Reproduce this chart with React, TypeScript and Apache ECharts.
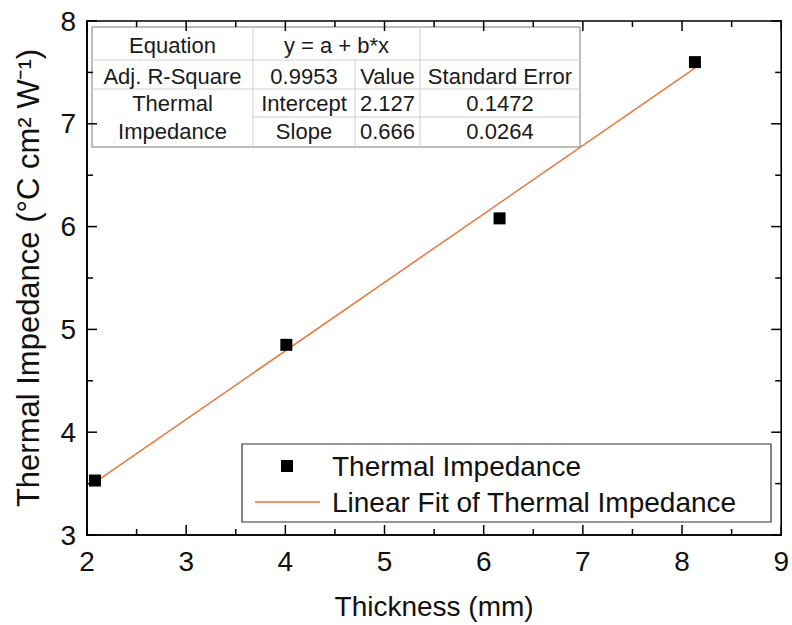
import React, { useEffect, useRef } from "react";
import * as echarts from "echarts";

// ---- data ----
const thickness = [2.08, 4.01, 6.16, 8.13];
const impedance = [3.53, 4.85, 6.08, 7.6];
const fitIntercept = 2.127;
const fitSlope = 0.666;
const xTicks = { min: 2, max: 9, interval: 1 };
const yTicks = { min: 3, max: 8, interval: 1 };
const xMajorTicks = [2, 3, 4, 5, 6, 7, 8, 9];
const xMinorTicks = [2.5, 3.5, 4.5, 5.5, 6.5, 7.5, 8.5];
const yMajorTicks = [3, 4, 5, 6, 7, 8];
const yMinorTicks = [3.5, 4.5, 5.5, 6.5, 7.5];
const seriesName = "Thermal Impedance";
const fitName = "Linear Fit of Thermal Impedance";
const xName = "Thickness (mm)";
const yName = "Thermal Impedance (°C cm² W⁻¹)";

// fit-statistics table (text content)
const tableRow1 = ["Equation", "y = a + b*x"];
const tableRow2 = ["Adj. R-Square", "0.9953", "Value", "Standard Error"];
const tableRow3 = ["Intercept", "2.127", "0.1472"];
const tableRow4 = ["Slope", "0.666", "0.0264"];
const tableGroupLabel = "Thermal\nImpedance";

const FONT = "'Liberation Sans', Arial, Helvetica, sans-serif";

const MAJOR = 10;
const MINOR = 6;

export default function App() {
  const ref = useRef<HTMLDivElement | null>(null);

  useEffect(() => {
    if (!ref.current) return;
    const chart = echarts.init(ref.current, null, { renderer: "svg" });

    const fitStart = thickness[0];
    const fitEnd = thickness[thickness.length - 1];
    const fitLine = [
      [fitStart, fitIntercept + fitSlope * fitStart],
      [fitEnd, fitIntercept + fitSlope * fitEnd],
    ];

    const axisLine = { show: true, onZero: false, lineStyle: { color: "#000", width: 1.6 } };

    // table geometry
    const cx = [92, 253, 355, 420, 580];
    const ry = [27, 60, 89, 117, 147];
    const mid = (a: number, b: number) => (a + b) / 2;
    const tY = [45, 76, 103, 131];
    const tStyle = (text: string, x: number, y: number) => ({
      type: "text",
      x,
      y,
      style: {
        text,
        fill: "#1a1a1a",
        font: `22px ${FONT}`,
        textAlign: "center",
        textVerticalAlign: "middle",
        lineHeight: 28,
      },
      z: 20,
    });
    const light = "#cfcfcf";
    const hLine = (x1: number, x2: number, y: number) => ({
      type: "line",
      shape: { x1, y1: y, x2, y2: y },
      style: { stroke: light, lineWidth: 1 },
      z: 19,
    });
    const vLine = (x: number, y1: number, y2: number) => ({
      type: "line",
      shape: { x1: x, y1, x2: x, y2 },
      style: { stroke: light, lineWidth: 1 },
      z: 19,
    });

    const c1 = mid(cx[0], cx[1]);
    const c2 = mid(cx[1], cx[2]);
    const c3 = mid(cx[2], cx[3]);
    const c4 = mid(cx[3], cx[4]);

    const graphic: any[] = [
      {
        type: "rect",
        shape: { x: cx[0], y: ry[0], width: cx[4] - cx[0], height: ry[4] - ry[0] },
        style: { fill: "#fff", stroke: "#7a7a7a", lineWidth: 1 },
        z: 18,
      },
      hLine(cx[0], cx[4], ry[1]),
      hLine(cx[0], cx[4], ry[2]),
      hLine(cx[1], cx[4], ry[3]),
      vLine(cx[1], ry[0], ry[4]),
      vLine(cx[2], ry[1], ry[4]),
      vLine(cx[3], ry[0], ry[4]),
      tStyle(tableRow1[0], c1, tY[0]),
      tStyle(tableRow1[1], mid(cx[1], cx[3]), tY[0]),
      tStyle(tableRow2[0], c1, tY[1]),
      tStyle(tableRow2[1], c2, tY[1]),
      tStyle(tableRow2[2], c3, tY[1]),
      tStyle(tableRow2[3], c4, tY[1]),
      tStyle(tableGroupLabel, c1, mid(tY[2], tY[3])),
      tStyle(tableRow3[0], c2, tY[2]),
      tStyle(tableRow3[1], c3, tY[2]),
      tStyle(tableRow3[2], c4, tY[2]),
      tStyle(tableRow4[0], c2, tY[3]),
      tStyle(tableRow4[1], c3, tY[3]),
      tStyle(tableRow4[2], c4, tY[3]),
      // legend frame
      {
        type: "rect",
        shape: { x: 242, y: 444, width: 529, height: 78 },
        style: { fill: "#fff", stroke: "#333", lineWidth: 1.2 },
        z: 5,
      },
    ];

    const option: any = {
      animation: false,
      backgroundColor: "#fff",
      textStyle: { fontFamily: FONT },
      grid: {
        left: 87,
        right: 9,
        top: 21,
        bottom: 88,
        containLabel: false,
        show: true,
        borderColor: "#000",
        borderWidth: 1.6,
        backgroundColor: "transparent",
      },
      xAxis: [
        {
          type: "value",
          position: "bottom",
          ...xTicks,
          axisLine,
          axisTick: { show: false },
          minorTick: { show: false },
          splitLine: { show: false },
          name: xName,
          nameLocation: "middle",
          nameGap: 57,
          nameTextStyle: { fontSize: 28, color: "#111", fontFamily: FONT },
          axisLabel: { fontSize: 28, color: "#111", margin: 12, fontFamily: FONT },
        },
      ],
      yAxis: [
        {
          type: "value",
          position: "left",
          ...yTicks,
          axisLine,
          axisTick: { show: false },
          minorTick: { show: false },
          splitLine: { show: false },
          name: yName,
          nameLocation: "middle",
          nameRotate: 90,
          nameGap: 43,
          nameTextStyle: { fontSize: 31, color: "#111", fontFamily: FONT },
          axisLabel: { fontSize: 28, color: "#111", margin: 11, fontFamily: FONT },
        },
      ],
      legend: [
        {
          data: [seriesName],
          left: 281,
          top: 451,
          padding: 0,
          itemWidth: 12,
          itemHeight: 12,
          z: 10,
          textStyle: { fontSize: 28, color: "#111", lineHeight: 30, padding: [0, 0, 0, 34], fontFamily: FONT },
        },
        {
          data: [{ name: fitName, icon: "rect" }],
          left: 255,
          top: 487,
          padding: 0,
          itemWidth: 65,
          itemHeight: 1.5,
          z: 10,
          textStyle: { fontSize: 28, color: "#111", lineHeight: 30, padding: [0, 0, 0, 7], fontFamily: FONT },
        },
      ],
      series: [
        {
          name: fitName,
          type: "line",
          data: fitLine,
          symbol: "none",
          lineStyle: { color: "#E8763A", width: 1.5 },
          itemStyle: { color: "#E8763A" },
          z: 3,
        },
        {
          name: seriesName,
          type: "scatter",
          data: thickness.map((x, i) => [x, impedance[i]]),
          symbol: "rect",
          symbolSize: 12,
          itemStyle: { color: "#000", opacity: 1 },
          z: 4,
        },
      ],
      graphic,
    };

    chart.setOption(option);

    // inward ticks on all four sides, placed through the axes' own scales
    const toPx = (v: number[]) => chart.convertToPixel({ gridIndex: 0 }, v) as number[];
    const bl = toPx([xTicks.min, yTicks.min]);
    const tr = toPx([xTicks.max, yTicks.max]);
    const left = bl[0];
    const bottom = bl[1];
    const right = tr[0];
    const top = tr[1];
    const tickStyle = { stroke: "#000", lineWidth: 1.5 };
    const tickEls: any[] = [];
    const addX = (v: number, len: number) => {
      const x = toPx([v, yTicks.min])[0];
      tickEls.push({ type: "line", shape: { x1: x, y1: bottom, x2: x, y2: bottom - len }, style: tickStyle, z: 30 });
      tickEls.push({ type: "line", shape: { x1: x, y1: top, x2: x, y2: top + len }, style: tickStyle, z: 30 });
    };
    const addY = (v: number, len: number) => {
      const y = toPx([xTicks.min, v])[1];
      tickEls.push({ type: "line", shape: { x1: left, y1: y, x2: left + len, y2: y }, style: tickStyle, z: 30 });
      tickEls.push({ type: "line", shape: { x1: right, y1: y, x2: right - len, y2: y }, style: tickStyle, z: 30 });
    };
    xMajorTicks.forEach((v) => addX(v, MAJOR));
    xMinorTicks.forEach((v) => addX(v, MINOR));
    yMajorTicks.forEach((v) => addY(v, MAJOR));
    yMinorTicks.forEach((v) => addY(v, MINOR));

    chart.setOption({ graphic: [...graphic, ...tickEls] });

    return () => chart.dispose();
  }, []);

  return (
    <div
      ref={ref}
      style={{ position: "fixed", left: 0, top: 0, width: 792, height: 625, background: "#fff" }}
    />
  );
}
